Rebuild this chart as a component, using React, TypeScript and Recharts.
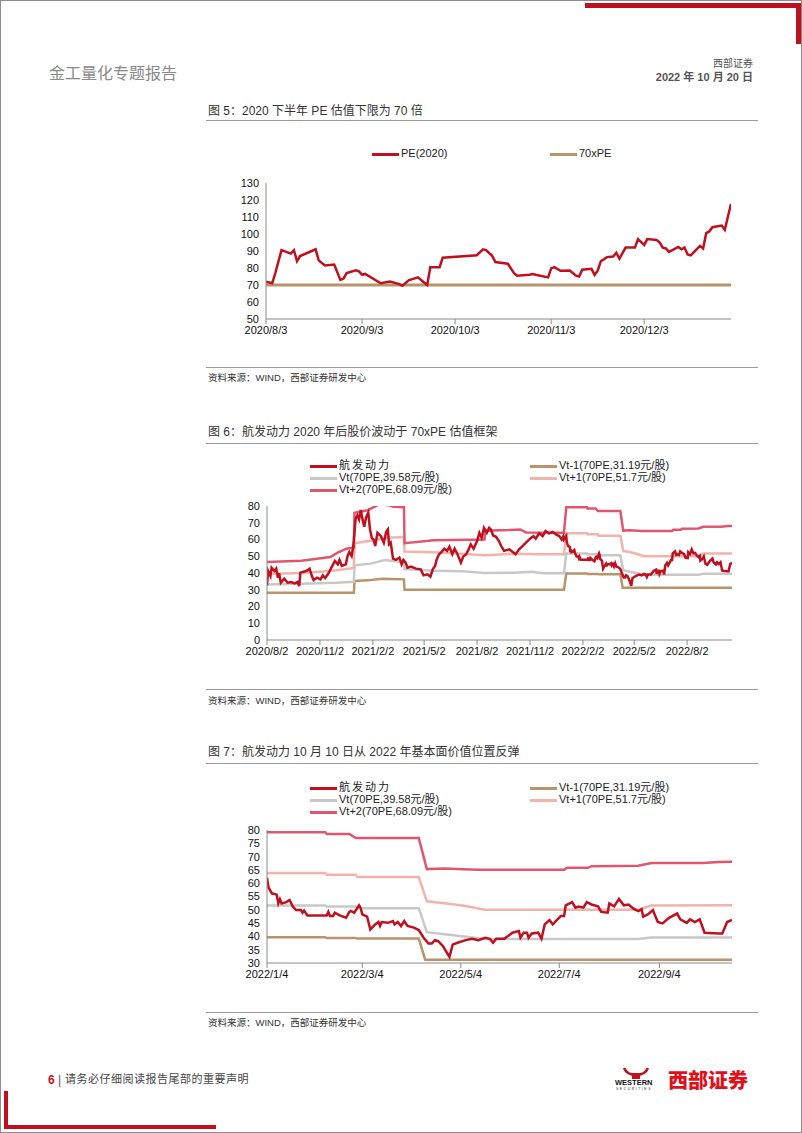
import { LineChart, Line, XAxis, YAxis } from 'recharts';

// ---- fig 5: PE(2020), days counted from 2020-08-03
const peBase = '2020-08-03';
const peDays = [0, 2, 3, 5, 8, 9, 10, 11, 16, 17, 19, 22, 24, 25, 26, 29, 30, 31, 32, 37, 40, 43, 44, 46, 49, 51, 52, 53, 56, 57, 68, 70, 71, 73, 74, 78, 80, 81, 85, 86, 87, 91, 92, 93, 95, 98, 100, 101, 102, 105, 106, 107, 108, 110, 112, 113, 114, 116, 119, 120, 122, 123, 126, 127, 128, 129, 130, 133, 134, 135, 136, 137, 140, 141, 142, 143, 144, 147, 148, 150];
const peValues = [72, 71, 77, 90.5, 88.5, 90.5, 84, 87, 91, 84.5, 81.5, 82, 73, 73.8, 77, 78.6, 78, 76, 76.5, 71, 72, 70.5, 69.5, 72.8, 74.5, 71.5, 70, 80.5, 80.5, 86, 87.5, 91, 90.5, 87, 83.5, 82.5, 77, 75.5, 76, 76.5, 76, 74.5, 79.8, 80.5, 78.4, 78.5, 75.5, 75, 79, 79.5, 76, 78.4, 84, 86.4, 86.8, 89, 85.5, 92, 92, 97, 93.6, 97, 96.5, 95, 92, 91.5, 89.5, 92.4, 91, 92, 88, 87.4, 93, 91.5, 100.5, 101.5, 104, 105, 102.5, 117.7];
const pe70Days = [0, 150];
const pe70Values = [70, 70];
const fig5Ticks = ['2020/8/3', '2020/9/3', '2020/10/3', '2020/11/3', '2020/12/3'];

// ---- fig 6: 2020/8 - 2021/12, days counted from 2020-08-02
const base20 = '2020-08-02';
const stockDays20 = [0, 2, 6, 8, 13, 16, 19, 21, 24, 30, 36, 42, 48, 53, 56, 58, 68, 74, 78, 81, 87, 93, 97, 101, 107, 111, 118, 123, 126, 130, 137, 140, 143, 147, 150, 154, 157, 160, 163, 166, 169, 172, 176, 179, 182, 185, 188, 192, 198, 203, 207, 210, 212, 215, 219, 224, 230, 234, 237, 241, 244, 250, 259, 267, 272, 279, 284, 288, 292, 295, 299, 303, 308, 313, 317, 322, 326, 331, 337, 341, 346, 350, 354, 359, 365, 369, 373, 377, 382, 386, 389, 393, 398, 403, 407, 412, 421, 427, 432, 438, 444, 450, 457, 463, 467, 473, 479, 484, 490, 496, 502, 508, 512, 515, 516];
const stockValues20 = [32.7, 41.2, 38.2, 43.2, 41.2, 42.6, 37.2, 39.8, 34.2, 36.6, 34.2, 34.6, 33.8, 34.6, 32.2, 40.2, 41.2, 42.6, 38.2, 35.8, 37.2, 36.2, 38.6, 37, 39.8, 42.6, 47.2, 45.2, 47.8, 44.2, 45.2, 50.2, 52.5, 50.2, 56.1, 72.4, 74.4, 72, 77.6, 72, 67.6, 73, 76, 66, 61, 60, 56.1, 64, 62, 58.1, 64.5, 66, 57.1, 58.1, 48.6, 47.8, 49.2, 45.2, 47.8, 46.2, 43.2, 43.8, 42.6, 42.2, 38.6, 39.2, 37.8, 42.2, 44.2, 48.2, 51.2, 52.5, 54.5, 53.2, 55.7, 51.2, 54.5, 51.2, 46.2, 49.8, 51.2, 53.8, 57.1, 54.5, 59.1, 64, 61, 67, 64, 67, 66, 62.4, 61.6, 59, 56.1, 53.2, 54.1, 52.5, 51.2, 54.1, 56.1, 58.1, 60.5, 62, 60.5, 63.7, 62, 65, 63.7, 64.5, 63.1, 62, 60, 62, 60];
const vtm1Days20 = [0, 151, 152, 175, 200, 238, 239, 516];
const vtm1Values20 = [28.2, 28.2, 35.2, 35.6, 36.6, 36.2, 30, 30];
const vtDays20 = [0, 60, 120, 151, 152, 180, 205, 225, 238, 239, 290, 340, 378, 430, 460, 480, 516];
const vtValues20 = [33.2, 33.6, 34.2, 34.8, 44.6, 45.6, 47.8, 47, 46.2, 42.4, 41.4, 41, 40, 40.2, 40.8, 39.8, 39.8];
const vtp1Days20 = [0, 60, 110, 151, 152, 180, 210, 238, 239, 300, 378, 430, 470, 516];
const vtp1Values20 = [39.4, 40, 41.2, 43, 57.8, 59.2, 61, 61.5, 52.8, 52.2, 50.6, 51.5, 51.2, 51.2];
const vtp2Days20 = [0, 60, 110, 122, 138, 151, 152, 175, 195, 210, 220, 238, 239, 290, 378, 379, 420, 440, 450, 516];
const vtp2Values20 = [46.5, 47.3, 49.5, 52, 54.5, 55.3, 76, 77.5, 81, 80.5, 79.5, 79.3, 57.8, 59.6, 60, 65.2, 65.6, 66, 64.2, 64];
const fig6Ticks = ['2020/8/2', '2020/11/2', '2021/2/2', '2021/5/2', '2021/8/2', '2021/11/2', '2022/2/2', '2022/5/2', '2022/8/2'];

// ---- 2022 (fig 7, also tail of fig 6), days counted from 2022-01-04
const base22 = '2022-01-04';
const stockDays22 = [0, 1, 3, 6, 7, 8, 9, 12, 14, 16, 18, 21, 22, 23, 25, 37, 38, 39, 41, 42, 45, 49, 51, 52, 54, 57, 58, 59, 62, 64, 67, 69, 70, 71, 75, 78, 79, 81, 83, 85, 87, 91, 94, 97, 100, 102, 104, 106, 109, 113, 115, 118, 123, 127, 131, 135, 138, 140, 142, 147, 152, 156, 157, 159, 161, 162, 164, 168, 170, 172, 175, 177, 182, 184, 185, 189, 191, 193, 196, 198, 201, 205, 207, 211, 212, 215, 218, 221, 224, 227, 230, 232, 233, 236, 239, 242, 245, 249, 254, 256, 260, 262, 265, 268, 271, 280, 282, 285, 288];
const stockValues22 = [62.1, 58.3, 56.2, 55.7, 52.4, 54, 52.4, 52.9, 53.7, 51.2, 49.9, 49.9, 48.9, 49.7, 47.9, 47.9, 49.2, 47.7, 47.7, 48.9, 47.9, 47, 49.2, 49.6, 48.9, 51.7, 50.7, 48.3, 47.4, 42.6, 44.5, 45.4, 43.9, 45.4, 45.1, 45.8, 44.5, 45.4, 43.9, 45.8, 43.9, 43.3, 42.4, 39.5, 37.3, 37.3, 38.6, 38.2, 36.3, 32.3, 36.9, 37.6, 38.6, 39.1, 38.6, 39.5, 39.1, 37.6, 39.1, 39.1, 41.4, 42, 39.5, 41.4, 41.4, 39.5, 41.1, 41.4, 39.1, 44.5, 46.1, 44.5, 47.7, 47.7, 51.7, 52.9, 50.8, 51.2, 50.8, 52.9, 52, 51.3, 49.2, 48.9, 52.4, 51.3, 54.1, 51.7, 52, 50.4, 49.5, 50.2, 47.4, 48.3, 49.9, 45.4, 44.9, 47, 48.6, 46.4, 45.1, 46.4, 45.4, 46.4, 41.4, 41.1, 41.1, 45.4, 46.2];
const vtm1Days22 = [0, 36, 37, 55, 56, 94, 98, 288];
const vtm1Values22 = [39.7, 39.7, 39.4, 39.4, 39.2, 39.2, 31.2, 31.2];
const vtDays22 = [0, 36, 37, 55, 56, 94, 99, 110, 122, 135, 230, 238, 288];
const vtValues22 = [51.6, 51.6, 51.2, 51.2, 50.6, 50.6, 41.6, 40.8, 40, 39, 39, 39.6, 39.6];
const vtp1Days22 = [0, 36, 37, 55, 56, 94, 99, 110, 122, 135, 230, 238, 288];
const vtp1Values22 = [63.8, 63.8, 63.2, 63.2, 62.3, 62.3, 53.2, 52.5, 51.5, 50, 50, 51.6, 51.7];
const vtp2Days22 = [0, 36, 37, 51, 55, 94, 99, 110, 130, 184, 186, 199, 201, 230, 238, 270, 280, 288];
const vtp2Values22 = [79.2, 79.2, 78.5, 78.5, 77, 77, 65.3, 65.5, 65.1, 65.1, 65.8, 65.8, 66.4, 66.6, 67.6, 67.6, 68, 68.1];
const fig7Ticks = ['2022/1/4', '2022/3/4', '2022/5/4', '2022/7/4', '2022/9/4'];

const C_STOCK = '#C0101E';
const C_VTM1 = '#B8936B';
const C_VT = '#C8C8C8';
const C_VTP1 = '#F2B3AA';
const C_VTP2 = '#E0566E';
const FONT = '"Liberation Sans", Arial, "Noto Sans CJK SC", sans-serif';

const dayNum = (s: string) => {
  const [y, m, d] = s.split(/[-/]/).map(Number);
  return Math.round(Date.UTC(y, m - 1, d) / 86400000);
};
const fmtDay = (v: number) => {
  const dt = new Date(v * 86400000);
  return `${dt.getUTCFullYear()}/${dt.getUTCMonth() + 1}/${dt.getUTCDate()}`;
};
const series = (base: string, days: number[], vals: number[]) =>
  days.map((o, i) => ({ t: dayNum(base) + o, v: vals[i] }));

const tickStyle = { fontSize: 11, fill: '#111', fontFamily: FONT };

function Txt({ x, y, size = 12, color = '#333', weight = 400, children, right = false, family = FONT, spacing = 0 }: any) {
  return (
    <div
      style={{
        position: 'absolute',
        top: y - size * 0.6,
        ...(right ? { right: 802 - x } : { left: x }),
        fontSize: size,
        lineHeight: `${size * 1.2}px`,
        color,
        fontWeight: weight,
        fontFamily: family,
        letterSpacing: spacing,
        whiteSpace: 'nowrap',
      }}
    >
      {children}
    </div>
  );
}

function HLine({ y, x1 = 205, x2 = 757, color = '#9a9a9a', h = 1 }: any) {
  return <div style={{ position: 'absolute', left: x1, top: y, width: x2 - x1, height: h, background: color }} />;
}

function LegendItem({ x, y, color, label, w = 27 }: any) {
  return (
    <>
      <div style={{ position: 'absolute', left: x, top: y - 1.5, width: w, height: 3, background: color }} />
      <Txt x={x + w + 2} y={y} size={11} color="#222">{label}</Txt>
    </>
  );
}

function ValLegend({ top }: { top: number }) {
  return (
    <>
      <LegendItem x={309} y={top} color={C_STOCK} label={<span style={{ letterSpacing: 2 }}>航发动力</span>} />
      <LegendItem x={529} y={top} color={C_VTM1} label="Vt-1(70PE,31.19元/股)" />
      <LegendItem x={309} y={top + 12} color={C_VT} label="Vt(70PE,39.58元/股)" />
      <LegendItem x={529} y={top + 12} color={C_VTP1} label="Vt+1(70PE,51.7元/股)" />
      <LegendItem x={309} y={top + 24} color={C_VTP2} label="Vt+2(70PE,68.09元/股)" />
    </>
  );
}

function Chart({ left, top, height, start, end, yDomain, yTicks, xTicks, lines }: any) {
  return (
    <div style={{ position: 'absolute', left, top }}>
      <LineChart width={560} height={height} margin={{ top: 10, right: 34, left: 21, bottom: 5 }}>
        <XAxis
          dataKey="t"
          type="number"
          domain={[dayNum(start), dayNum(end)]}
          allowDataOverflow
          ticks={xTicks.map(dayNum)}
          tickFormatter={fmtDay}
          interval={0}
          height={20}
          tick={tickStyle}
          tickSize={5}
          tickMargin={2}
          axisLine={{ stroke: '#8a8a8a' }}
          tickLine={{ stroke: '#8a8a8a' }}
        />
        <YAxis
          type="number"
          domain={yDomain}
          ticks={yTicks}
          allowDataOverflow
          interval={0}
          width={40}
          tick={tickStyle}
          tickLine={false}
          tickSize={5}
          tickMargin={2}
          axisLine={{ stroke: '#8a8a8a' }}
        />
        {lines.map((l: any) => (
          <Line
            key={l.name}
            name={l.name}
            data={l.data}
            dataKey="v"
            type="linear"
            stroke={l.color}
            strokeWidth={l.width ?? 2.5}
            dot={false}
            activeDot={false}
            isAnimationActive={false}
          />
        ))}
      </LineChart>
    </div>
  );
}

export default function App() {
  const fig5Lines = [
    { name: '70xPE', color: C_VTM1, width: 3, data: series(peBase, pe70Days, pe70Values) },
    { name: 'PE(2020)', color: C_STOCK, width: 2.5, data: series(peBase, peDays, peValues) },
  ];
  const fig6Lines = [
    { name: 'Vt-1', color: C_VTM1, data: [...series(base20, vtm1Days20, vtm1Values20), ...series(base22, vtm1Days22, vtm1Values22)] },
    { name: 'Vt', color: C_VT, data: [...series(base20, vtDays20, vtValues20), ...series(base22, vtDays22, vtValues22)] },
    { name: 'Vt+1', color: C_VTP1, data: [...series(base20, vtp1Days20, vtp1Values20), ...series(base22, vtp1Days22, vtp1Values22)] },
    { name: 'Vt+2', color: C_VTP2, data: [...series(base20, vtp2Days20, vtp2Values20), ...series(base22, vtp2Days22, vtp2Values22)] },
    { name: '航发动力', color: C_STOCK, data: [...series(base20, stockDays20, stockValues20), ...series(base22, stockDays22, stockValues22)] },
  ];
  const fig7Lines = [
    { name: 'Vt-1', color: C_VTM1, data: series(base22, vtm1Days22, vtm1Values22) },
    { name: 'Vt', color: C_VT, data: series(base22, vtDays22, vtValues22) },
    { name: 'Vt+1', color: C_VTP1, data: series(base22, vtp1Days22, vtp1Values22) },
    { name: 'Vt+2', color: C_VTP2, data: series(base22, vtp2Days22, vtp2Values22) },
    { name: '航发动力', color: C_STOCK, data: series(base22, stockDays22, stockValues22) },
  ];

  return (
    <div
      style={{
        position: 'relative',
        width: 802,
        height: 1133,
        boxSizing: 'border-box',
        border: '1px solid #8c8c8c',
        background: '#fff',
        fontFamily: FONT,
        overflow: 'hidden',
      }}
    >
      <style>{'body{margin:0}'}</style>

      {/* page decorations */}
      <div style={{ position: 'absolute', left: 584, top: 2, width: 216, height: 5, background: '#C0101E' }} />
      <div style={{ position: 'absolute', left: 795, top: 2, width: 5, height: 41, background: '#C0101E' }} />
      <div style={{ position: 'absolute', left: 3, top: 1090, width: 4, height: 38, background: '#C0101E' }} />
      <div style={{ position: 'absolute', left: 3, top: 1124, width: 212, height: 4, background: '#C0101E' }} />

      <Txt x={48} y={73} size={16} color="#8a8a8a">金工量化专题报告</Txt>
      <Txt x={754} y={63} size={10} color="#555" right>西部证券</Txt>
      <Txt x={754} y={77} size={11} color="#555" weight={700} right>2022 年 10 月 20 日</Txt>

      {/* fig 5 */}
      <Txt x={207} y={110} size={12}>图 5：2020 下半年 PE 估值下限为 70 倍</Txt>
      <HLine y={119} />
      <LegendItem x={371} y={153} color={C_STOCK} label="PE(2020)" />
      <LegendItem x={549} y={153} color={C_VTM1} label="70xPE" />
      <Chart
        left={204}
        top={172}
        height={171}
        start={peBase}
        end="2020-12-31"
        yDomain={[50, 130]}
        yTicks={[50, 60, 70, 80, 90, 100, 110, 120, 130]}
        xTicks={fig5Ticks}
        lines={fig5Lines}
      />
      <HLine y={366} />
      <Txt x={207} y={377} size={9.5} color="#333">资料来源：WIND，西部证券研发中心</Txt>

      {/* fig 6 */}
      <Txt x={207} y={431} size={12}>图 6：航发动力 2020 年后股价波动于 70xPE 估值框架</Txt>
      <HLine y={442} />
      <ValLegend top={465} />
      <Chart
        left={205}
        top={495}
        height={169}
        start={base20}
        end="2022-10-19"
        yDomain={[0, 80]}
        yTicks={[0, 10, 20, 30, 40, 50, 60, 70, 80]}
        xTicks={fig6Ticks}
        lines={fig6Lines}
      />
      <HLine y={688} />
      <Txt x={207} y={700} size={9.5} color="#333">资料来源：WIND，西部证券研发中心</Txt>

      {/* fig 7 */}
      <Txt x={207} y={751} size={12}>图 7：航发动力 10 月 10 日从 2022 年基本面价值位置反弹</Txt>
      <HLine y={762} />
      <ValLegend top={787} />
      <Chart
        left={205}
        top={819}
        height={168}
        start={base22}
        end="2022-10-19"
        yDomain={[30, 80]}
        yTicks={[30, 35, 40, 45, 50, 55, 60, 65, 70, 75, 80]}
        xTicks={fig7Ticks}
        lines={fig7Lines}
      />
      <HLine y={1011} />
      <Txt x={207} y={1022} size={9.5} color="#333">资料来源：WIND，西部证券研发中心</Txt>

      {/* footer */}
      <Txt x={47} y={1079} size={12} color="#C0101E" weight={700}>6</Txt>
      <Txt x={57} y={1079} size={12} color="#555">|</Txt>
      <Txt x={64} y={1079} size={11} color="#444" spacing={0.5}>请务必仔细阅读报告尾部的重要声明</Txt>
      <svg style={{ position: 'absolute', left: 620, top: 1066 }} width={30} height={12}>
        <path d="M3 1 Q6 8 15 8 Q24 8 27 1" fill="none" stroke="#C0101E" strokeWidth={2.5} />
        <rect x={11} y={6} width={8} height={6} fill="#C0101E" />
      </svg>
      <Txt x={614} y={1081} size={7.5} color="#111" weight={700}>WESTERN</Txt>
      <Txt x={615} y={1088} size={3.5} color="#333" spacing={1.5}>SECURITIES</Txt>
      <Txt x={667} y={1079} size={20} color="#E0101A" weight={900} family={'"Noto Sans CJK SC", sans-serif'}>西部证券</Txt>
    </div>
  );
}
